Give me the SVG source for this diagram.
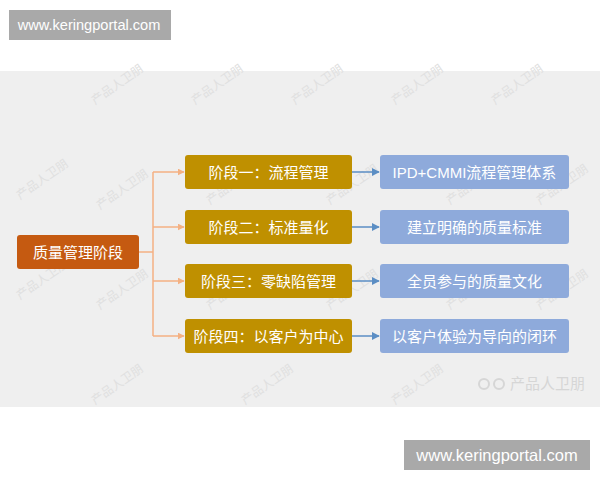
<svg xmlns="http://www.w3.org/2000/svg" width="600" height="480" viewBox="0 0 600 480">
<style>
.t{font-family:"Liberation Sans","Noto Sans CJK SC",sans-serif;font-size:15px;fill:#ffffff;text-anchor:middle;dominant-baseline:central}
.wm{font-family:"Noto Sans CJK SC",sans-serif;font-size:12px;fill:#e0e0e0}
.stage{fill:#bf9000}
.goal{fill:#8eaadb}
.pk{stroke:#f4b183;stroke-width:1.5;fill:none}
.bl{stroke:#5b8ec4;stroke-width:1.5;fill:none}
.url{font-family:"Liberation Sans",sans-serif;fill:#ffffff;text-anchor:middle;dominant-baseline:central}
</style>
<defs>
<marker id="ap" viewBox="0 0 10 10" refX="9" refY="5" markerWidth="7" markerHeight="7" orient="auto" markerUnits="userSpaceOnUse"><path d="M0,0 L10,5 L0,10 Z" fill="#f4b183"/></marker>
<marker id="ab" viewBox="0 0 10 10" refX="9" refY="5" markerWidth="8" markerHeight="8" orient="auto" markerUnits="userSpaceOnUse"><path d="M0,0 L10,5 L0,10 Z" fill="#5b8ec4"/></marker>
</defs>
<rect x="0" y="0" width="600" height="480" fill="#ffffff"/>
<rect x="0" y="71" width="600" height="336" fill="#efefef"/>
<g id="watermarks">
<text class="wm" transform="translate(95,105) rotate(-35)">产品人卫朋</text>
<text class="wm" transform="translate(195,105) rotate(-35)">产品人卫朋</text>
<text class="wm" transform="translate(295,105) rotate(-35)">产品人卫朋</text>
<text class="wm" transform="translate(395,105) rotate(-35)">产品人卫朋</text>
<text class="wm" transform="translate(495,105) rotate(-35)">产品人卫朋</text>
<text class="wm" transform="translate(20,200) rotate(-35)">产品人卫朋</text>
<text class="wm" transform="translate(100,210) rotate(-35)">产品人卫朋</text>
<text class="wm" transform="translate(210,205) rotate(-35)">产品人卫朋</text>
<text class="wm" transform="translate(330,205) rotate(-35)">产品人卫朋</text>
<text class="wm" transform="translate(450,205) rotate(-35)">产品人卫朋</text>
<text class="wm" transform="translate(540,205) rotate(-35)">产品人卫朋</text>
<text class="wm" transform="translate(20,300) rotate(-35)">产品人卫朋</text>
<text class="wm" transform="translate(100,310) rotate(-35)">产品人卫朋</text>
<text class="wm" transform="translate(210,310) rotate(-35)">产品人卫朋</text>
<text class="wm" transform="translate(330,310) rotate(-35)">产品人卫朋</text>
<text class="wm" transform="translate(450,310) rotate(-35)">产品人卫朋</text>
<text class="wm" transform="translate(540,310) rotate(-35)">产品人卫朋</text>
<text class="wm" transform="translate(95,405) rotate(-35)">产品人卫朋</text>
<text class="wm" transform="translate(245,405) rotate(-35)">产品人卫朋</text>
<text class="wm" transform="translate(395,405) rotate(-35)">产品人卫朋</text>
<text x="510" y="389" style="font-family:'Noto Sans CJK SC',sans-serif;font-size:15px;fill:#d6d6d6">产品人卫朋</text>
<circle cx="484" cy="384" r="5" fill="none" stroke="#d6d6d6" stroke-width="2"/>
<circle cx="499" cy="384" r="5" fill="none" stroke="#d6d6d6" stroke-width="2"/>
</g>
<g id="connectors">
<path class="pk" d="M139,252 H153"/>
<path class="pk" d="M153,172 V336"/>
<path class="pk" d="M153,172 H184" marker-end="url(#ap)"/>
<path class="pk" d="M153,227 H184" marker-end="url(#ap)"/>
<path class="pk" d="M153,281 H184" marker-end="url(#ap)"/>
<path class="pk" d="M153,336 H184" marker-end="url(#ap)"/>
<path class="bl" d="M352,172 H379" marker-end="url(#ab)"/>
<path class="bl" d="M352,227 H379" marker-end="url(#ab)"/>
<path class="bl" d="M352,281 H379" marker-end="url(#ab)"/>
<path class="bl" d="M352,336 H379" marker-end="url(#ab)"/>
</g>
<g id="root"><rect x="17" y="235" width="122" height="34" rx="3" fill="#c55a11"/><text class="t" x="78" y="252">质量管理阶段</text></g>
<g id="stage1"><rect class="stage" x="185" y="155" width="167" height="34" rx="3"/><text class="t" x="268.5" y="172">阶段一：流程管理</text></g>
<g id="stage2"><rect class="stage" x="185" y="210" width="167" height="34" rx="3"/><text class="t" x="268.5" y="227">阶段二：标准量化</text></g>
<g id="stage3"><rect class="stage" x="185" y="264" width="167" height="34" rx="3"/><text class="t" x="268.5" y="281">阶段三：零缺陷管理</text></g>
<g id="stage4"><rect class="stage" x="185" y="319" width="167" height="34" rx="3"/><text class="t" x="268.5" y="336">阶段四：以客户为中心</text></g>
<g id="goal1"><rect class="goal" x="380" y="155" width="189" height="34" rx="3"/><text class="t" x="474.5" y="172">IPD+CMMI流程管理体系</text></g>
<g id="goal2"><rect class="goal" x="380" y="210" width="189" height="34" rx="3"/><text class="t" x="474.5" y="227">建立明确的质量标准</text></g>
<g id="goal3"><rect class="goal" x="380" y="264" width="189" height="34" rx="3"/><text class="t" x="474.5" y="281">全员参与的质量文化</text></g>
<g id="goal4"><rect class="goal" x="380" y="319" width="189" height="34" rx="3"/><text class="t" x="474.5" y="336">以客户体验为导向的闭环</text></g>
<g id="url-top"><rect x="9" y="10" width="162" height="30" fill="#a9a9a9"/><text class="url" x="89" y="25" style="font-size:14.6px">www.keringportal.com</text></g>
<g id="url-bottom"><rect x="404" y="440" width="186" height="30" fill="#a9a9a9"/><text class="url" x="497" y="455" style="font-size:16.5px">www.keringportal.com</text></g>
</svg>
